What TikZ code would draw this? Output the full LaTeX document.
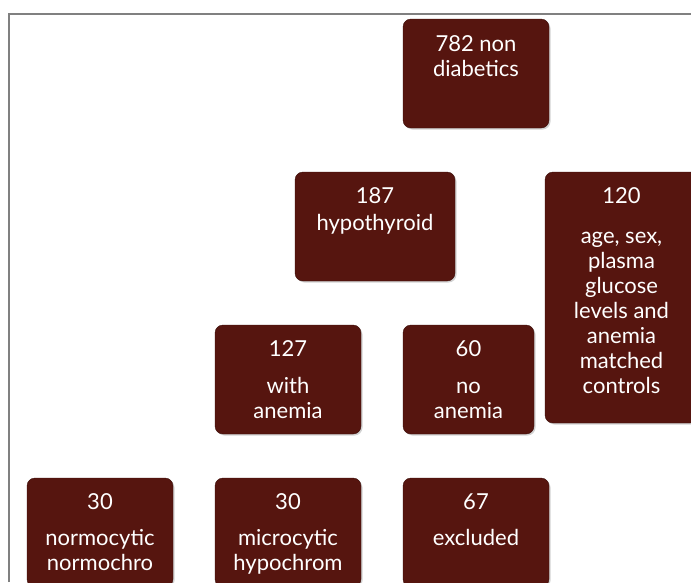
\documentclass[tikz,border=0pt]{standalone}
\usepackage{fontspec}
\setmainfont{Lato}
\usepackage{tikz}
\usetikzlibrary{positioning, shadows}
\usepackage{xcolor}
\definecolor{flowmaroon}{RGB}{86, 21, 15}
\definecolor{framegray}{RGB}{128, 128, 128}

\begin{document}
\begin{tikzpicture}[x=1pt, y=-1pt,
    box/.style={rectangle, fill=flowmaroon, draw=flowmaroon!70!black, rounded corners=8pt, minimum width=146pt, minimum height=109pt, inner sep=0pt, drop shadow={shadow xshift=1.5pt, shadow yshift=-1.5pt, opacity=0.35}},
    lbl/.style={text=white, align=center, inner sep=0pt, font=\fontsize{22}{25}\selectfont}
  ]
  \clip (0,0) rectangle (691,582);
  \fill[white] (0,0) rectangle (691,582);
  \draw[framegray, line width=1.5pt] (9,582) -- (9,14) -- (691,14);

  % boxes
  \node[box] (b782) at (476, 73.5) {};
  \node[box, minimum width=160pt] (b187) at (375, 226.5) {};
  \node[box, minimum width=153pt, minimum height=251pt] (b120) at (621.5, 297.5) {};
  \node[box] (b127) at (288, 379.5) {};
  \node[box, minimum width=131pt] (b60) at (468.5, 379.5) {};
  \node[box] (b30n) at (100, 532.5) {};
  \node[box] (b30m) at (288, 532.5) {};
  \node[box] (b67) at (476, 532.5) {};

  % texts
  \node[lbl, below=17pt of b782.north] (t782) {782 non\\diabetics};
  \node[lbl, below=16pt of b187.north] (t187) {187\\[2pt]hypothyroid};
  \node[lbl, below=16pt of b120.north] (t120) {120\\[15pt]age, sex,\\plasma\\glucose\\levels and\\anemia\\matched\\controls};
  \node[lbl, below=16pt of b127.north] (t127) {127\\[12pt]with\\anemia};
  \node[lbl, below=16pt of b60.north] (t60) {60\\[12pt]no\\anemia};
  \node[lbl, below=16pt of b30n.north] (t30n) {30\\[11pt]normocytic\\normochro};
  \node[lbl, below=16pt of b30m.north] (t30m) {30\\[11pt]microcytic\\hypochrom};
  \node[lbl, below=16pt of b67.north] (t67) {67\\[11pt]excluded};
\end{tikzpicture}
\end{document}
